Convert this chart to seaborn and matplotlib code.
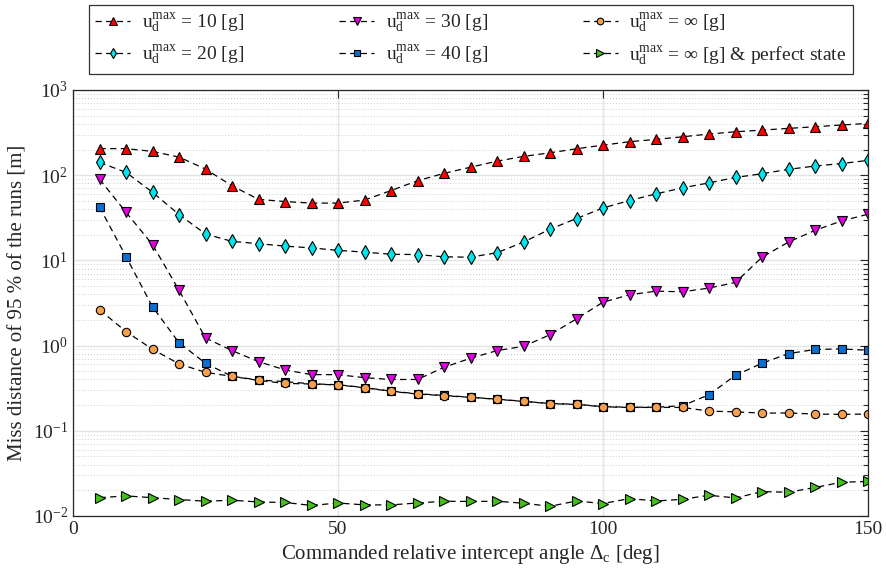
import numpy as np
import pandas as pd
import seaborn as sns
from matplotlib import pyplot as plt
from matplotlib.ticker import LogLocator, NullFormatter, FixedLocator

angles = list(range(5, 155, 5))

miss_u10 = [205, 205, 190, 163, 118, 75, 52, 49, 47, 47,
            51, 66, 86, 105, 124, 146, 166, 183, 204, 225,
            247, 263, 282, 304, 323, 338, 354, 370, 388, 405]
miss_u20 = [141, 108, 63, 34.5, 20.4, 16.7, 15.7, 14.7, 14.0, 13.1,
            12.5, 11.8, 11.7, 11.0, 10.9, 12.3, 16.4, 23.2, 31, 41.2,
            50.4, 60.3, 71, 81.2, 94, 104, 117, 128, 137, 149]
miss_u30 = [89.8, 36.7, 15.3, 4.47, 1.23, 0.873, 0.648, 0.518, 0.456, 0.456,
            0.42, 0.40, 0.40, 0.556, 0.71, 0.873, 0.98, 1.34, 2.06, 3.23,
            3.95, 4.35, 4.28, 4.73, 5.51, 10.9, 16.4, 22.5, 29, 34.8]
miss_u40 = [42.4, 11.1, 2.85, 1.08, 0.62, 0.435, 0.395, 0.377, 0.356, 0.347,
            0.322, 0.292, 0.272, 0.26, 0.248, 0.235, 0.222, 0.209, 0.205, 0.192,
            0.189, 0.189, 0.197, 0.265, 0.448, 0.62, 0.805, 0.90, 0.914, 0.88]
miss_uinf = [2.63, 1.46, 0.905, 0.61, 0.485, 0.435, 0.39, 0.36, 0.354, 0.345,
             0.32, 0.29, 0.27, 0.258, 0.247, 0.234, 0.221, 0.208, 0.204, 0.191,
             0.188, 0.188, 0.188, 0.17, 0.167, 0.161, 0.162, 0.157, 0.156, 0.157]
miss_perfect = [0.0164, 0.0172, 0.0164, 0.0156, 0.0149, 0.0153, 0.0146, 0.0144, 0.0133, 0.0142,
                0.0135, 0.0135, 0.0142, 0.0149, 0.0148, 0.0149, 0.0141, 0.0130, 0.0150, 0.0140,
                0.0160, 0.0150, 0.0157, 0.0175, 0.0163, 0.0193, 0.0190, 0.0216, 0.0249, 0.0254]

series_labels = [
    r"u$_\mathrm{d}^\mathrm{max}$ = 10 [g]",
    r"u$_\mathrm{d}^\mathrm{max}$ = 20 [g]",
    r"u$_\mathrm{d}^\mathrm{max}$ = 30 [g]",
    r"u$_\mathrm{d}^\mathrm{max}$ = 40 [g]",
    r"u$_\mathrm{d}^\mathrm{max}$ = $\infty$ [g]",
    r"u$_\mathrm{d}^\mathrm{max}$ = $\infty$ [g] & perfect state",
]
series_values = [miss_u10, miss_u20, miss_u30, miss_u40, miss_uinf, miss_perfect]
markers = ["^", "d", "v", "s", "o", ">"]
face_colors = ["#ff0000", "#00e5ee", "#e000e0", "#0a6fd0", "#f6a04d", "#44c01a"]
marker_sizes = [7, 7, 7, 6, 6, 7]

sns.set_style("white")
plt.rcParams["font.family"] = ["Liberation Serif", "DejaVu Serif"]
plt.rcParams["mathtext.fontset"] = "custom"
plt.rcParams["mathtext.rm"] = "Liberation Serif"
plt.rcParams["mathtext.it"] = "Liberation Serif:italic"

fig = plt.figure(figsize=(8.87, 5.73), dpi=100)
ax = fig.add_axes([0.0823, 0.0995, 0.8963, 0.7435])

for vals, lab, mk, fc, ms in zip(series_values, series_labels, markers, face_colors, marker_sizes):
    df = pd.DataFrame({"angle": angles, "miss": vals})
    sns.lineplot(
        data=df, x="angle", y="miss", ax=ax,
        color="black", linestyle=(0, (5, 3.5)), linewidth=0.9,
        marker=mk, markersize=ms, markerfacecolor=fc,
        markeredgecolor="black", markeredgewidth=0.8,
        label=lab, legend=False,
    )

ax.set_yscale("log")
ax.set_xlim(0, 150)
ax.set_ylim(1e-2, 1e3)
ax.xaxis.set_major_locator(FixedLocator([0, 50, 100, 150]))
ax.yaxis.set_major_locator(LogLocator(base=10, numticks=10))
ax.yaxis.set_minor_locator(LogLocator(base=10, subs=np.arange(2, 10), numticks=20))
ax.yaxis.set_minor_formatter(NullFormatter())

ax.grid(True, which="major", color="#e3e3e3", linewidth=1.0, linestyle="-")
ax.grid(True, which="minor", axis="y", color="#cfcfcf", linewidth=0.7, linestyle=(0, (1, 2)))
ax.set_axisbelow(True)

ax.tick_params(which="both", direction="in", top=True, right=True, labelsize=14, colors="#262626")
ax.tick_params(which="major", length=6, width=0.8)
ax.tick_params(which="minor", length=3.5, width=0.8)
for sp in ax.spines.values():
    sp.set_color("#262626")
    sp.set_linewidth(0.9)

ax.set_xlabel(r"Commanded relative intercept angle $\Delta_\mathrm{c}$ [deg]", fontsize=15, color="#262626")
ax.set_ylabel("Miss distance of 95 % of the runs [m]", fontsize=15, color="#262626")

handles, labels = ax.get_legend_handles_labels()
leg = fig.legend(
    handles, labels, ncol=3, loc="center",
    bbox_to_anchor=(0.089, 0.869, 0.884, 0.123), bbox_transform=fig.transFigure,
    mode="expand", fontsize=14, frameon=True, fancybox=False,
    handlelength=1.8, handletextpad=0.6, borderpad=0.35, labelspacing=0.45,
    columnspacing=1.0, markerscale=0.8,
)
leg.get_frame().set_edgecolor("black")
leg.get_frame().set_linewidth(0.9)

fig.savefig("out.png", dpi=100)
